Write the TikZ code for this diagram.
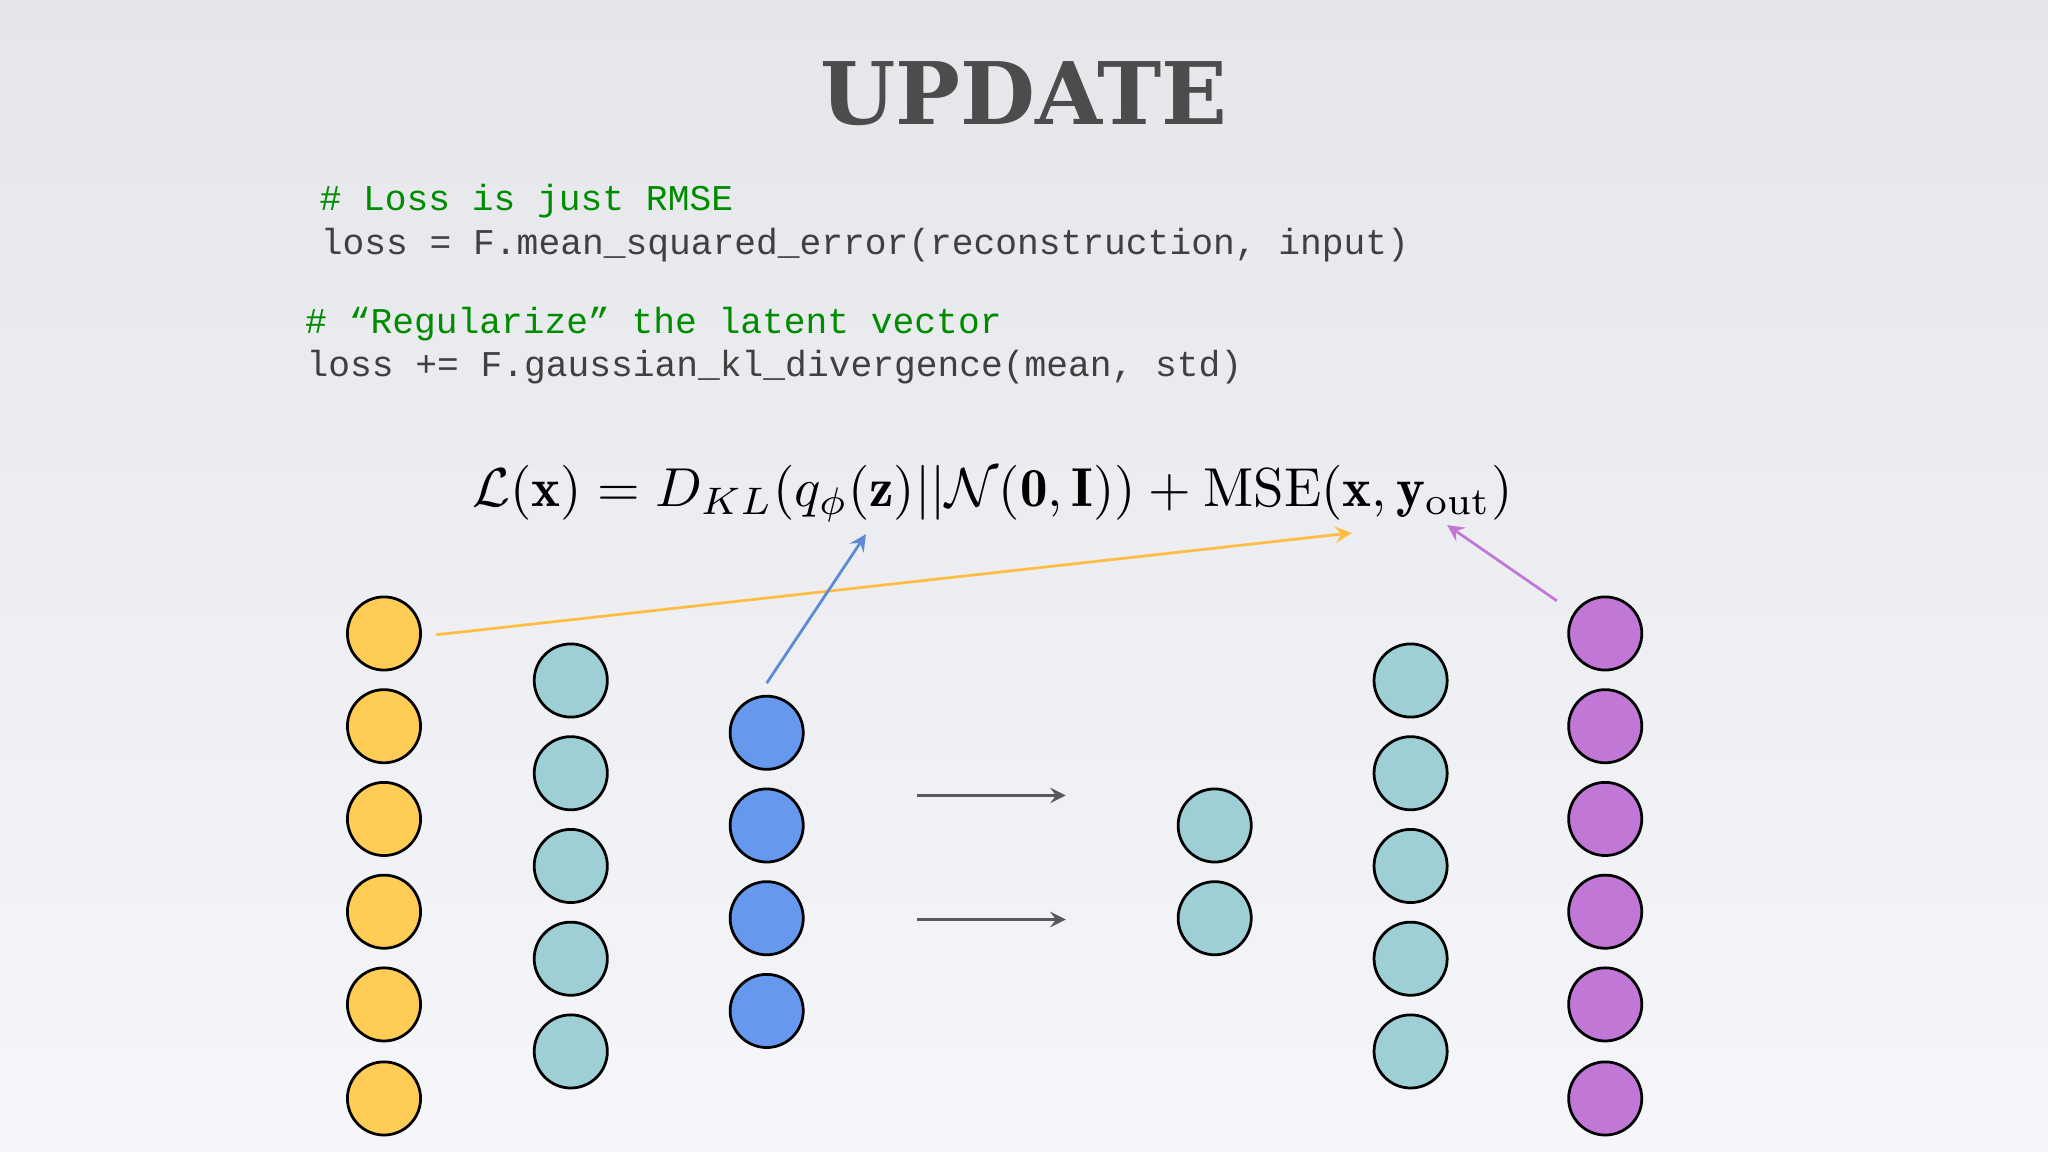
\documentclass[tikz,border=0pt]{standalone}
\usepackage{fontspec}
\setmonofont{Liberation Mono}
\newfontfamily\titlefont{DejaVu Serif}
\begin{document}
\begin{tikzpicture}[x=0.1mm,y=-0.1mm,
  neuron/.style={circle,draw=black,line width=0.6pt,minimum size=5.6mm,inner sep=0pt},
  yel/.style={neuron,fill=yellowc},
  tea/.style={neuron,fill=tealc},
  blu/.style={neuron,fill=bluec},
  pur/.style={neuron,fill=purc},
  flow/.style={-stealth,draw=gray!70!black,line width=0.5pt},
  codec/.style={anchor=base west,font=\ttfamily\fontsize{7.9}{9}\selectfont,text=black!75,inner sep=0pt},
  comm/.style={codec,text=green!55!black}]
\definecolor{yellowc}{HTML}{FFCC55}
\definecolor{tealc}{HTML}{9ECFD4}
\definecolor{bluec}{HTML}{6699EE}
\definecolor{purc}{HTML}{C077D6}
\definecolor{bgtop}{HTML}{E4E6E9}
\definecolor{bgbot}{HTML}{F5F6FA}
\shade[top color=bgtop,bottom color=bgbot] (0,0) rectangle (1568,882);
\useasboundingbox (0,0) rectangle (1568,882);
\node (title) at (784,72) {\resizebox{31.2mm}{!}{\titlefont\bfseries\color{black!70}UPDATE}};
\node[comm] (c1) at (244,161) {\# Loss is just RMSE};
\node[codec] (l1) at (245,195) {loss = F.mean\_squared\_error(reconstruction, input)};
\node[comm] (c2) at (233,255) {\# “Regularize” the latent vector};
\node[codec] (l2) at (234,288) {loss += F.gaussian\_kl\_divergence(mean, std)};
\node (eq) at (760,378) {\resizebox{79.6mm}{!}{$\mathcal{L}(\mathbf{x}) = D_{KL}(q_\phi(\mathbf{z})||\mathcal{N}(\mathbf{0},\mathbf{I})) + \mathrm{MSE}(\mathbf{x},\mathbf{y}_{\mathrm{out}})$}};
\foreach \i/\y in {1/485,2/556,3/627,4/698,5/769,6/841}{
  \node[yel] (y\i) at (294,\y) {};
  \node[pur] (p\i) at (1229,\y) {};}
\foreach \i/\y in {1/521,2/592,3/663,4/734,5/805}{
  \node[tea] (t\i) at (437,\y) {};
  \node[tea] (r\i) at (1080,\y) {};}
\foreach \i/\y in {1/561,2/632,3/703,4/774}{
  \node[blu] (b\i) at (587,\y) {};}
\node[tea] (m1) at (930,632) {};
\node[tea] (m2) at (930,703) {};
\coordinate (a1s) at (702,609); \coordinate (a1e) at (816,609);
\coordinate (a2s) at (702,704); \coordinate (a2e) at (816,704);
\draw[flow] (a1s) -- (a1e);
\draw[flow] (a2s) -- (a2e);
\coordinate (yx) at (1035,408);
\coordinate (yz) at (663,409);
\coordinate (yy) at (1108,402);
\coordinate (bs) at (587,523);
\coordinate (ps) at (1192,460);
\draw[-stealth,draw=yellowc!80!orange,line width=0.6pt] (334,486) -- (yx);
\draw[-stealth,draw=bluec!90!black,line width=0.6pt] (bs) -- (yz);
\draw[-stealth,draw=purc,line width=0.6pt] (ps) -- (yy);
\end{tikzpicture}
\end{document}
